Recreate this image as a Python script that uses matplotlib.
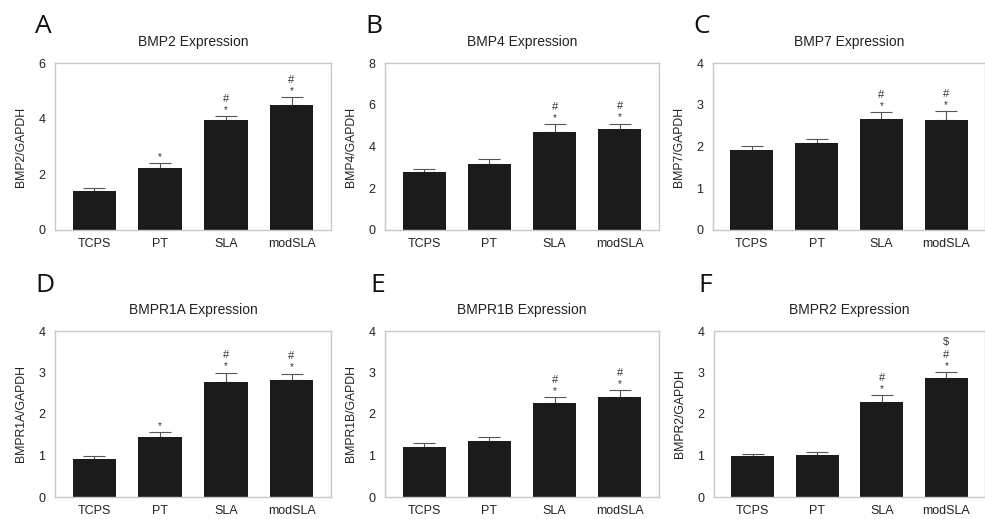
import matplotlib
matplotlib.use("Agg")
import matplotlib.pyplot as plt

plt.rcParams['font.family'] = ['Liberation Sans', 'DejaVu Sans']

groups = ["TCPS", "PT", "SLA", "modSLA"]

letters = ["A", "B", "C", "D", "E", "F"]
titles = ["BMP2 Expression", "BMP4 Expression", "BMP7 Expression",
          "BMPR1A Expression", "BMPR1B Expression", "BMPR2 Expression"]
ylabels = ["BMP2/GAPDH", "BMP4/GAPDH", "BMP7/GAPDH",
           "BMPR1A/GAPDH", "BMPR1B/GAPDH", "BMPR2/GAPDH"]
ymax = [6, 8, 4, 4, 4, 4]
ystep = [2, 2, 1, 1, 1, 1]

means = [
    [1.40, 2.21, 3.94, 4.50],
    [2.78, 3.15, 4.70, 4.85],
    [1.91, 2.08, 2.66, 2.64],
    [0.91, 1.44, 2.77, 2.81],
    [1.21, 1.34, 2.26, 2.40],
    [0.98, 1.02, 2.28, 2.86],
]
errs = [
    [0.10, 0.19, 0.14, 0.28],
    [0.15, 0.26, 0.36, 0.24],
    [0.11, 0.10, 0.16, 0.20],
    [0.08, 0.12, 0.23, 0.16],
    [0.09, 0.11, 0.14, 0.18],
    [0.05, 0.07, 0.17, 0.15],
]
# significance marks per bar
marks = [
    ["", "*", "*#", "*#"],
    ["", "", "*#", "*#"],
    ["", "", "*#", "*#"],
    ["", "*", "*#", "*#"],
    ["", "", "*#", "*#"],
    ["", "", "*#", "*#$"],
]

# axes boxes in pixels (left, right, top, bottom)
W, H = 985, 519
boxes = [
    (55, 331, 63, 230), (385, 659, 63, 230), (713, 985, 63, 230),
    (55, 331, 331, 497), (385, 659, 331, 497), (714, 985, 331, 497),
]
letter_pos = [(35, 33), (365, 33), (693, 33), (35, 292), (370, 292), (698, 292)]

fig = plt.figure(figsize=(W / 100, H / 100), dpi=100)

mark_off = {"*": 4.5, "#": 12.5, "$": 21.5}

for i in range(6):
    l, r, t, b = boxes[i]
    ax = fig.add_axes([l / W, 1 - b / H, (r - l) / W, (b - t) / H])
    x = range(len(groups))
    ax.bar(x, means[i], width=0.66, color="#1b1b1b", zorder=2)
    ax.errorbar(x, means[i], yerr=[[0] * 4, errs[i]], fmt="none",
                ecolor="#555555", elinewidth=0.8, capsize=8, capthick=0.8, zorder=1)
    for j in range(4):
        top = means[i][j] + errs[i][j]
        for m in marks[i][j]:
            ax.annotate(m, (j, top), xytext=(0, mark_off[m]), textcoords="offset points",
                        ha="center", va="center", fontsize=8 if m != "*" else 7,
                        color="#333333")
    ax.set_xlim(-0.6, 3.6)
    ax.set_ylim(0, ymax[i])
    yt = list(range(0, ymax[i] + 1, ystep[i]))
    ax.set_yticks(yt)
    ax.set_xticks(list(x))
    ax.set_xticklabels(groups, fontsize=9)
    ax.tick_params(axis="both", length=0, labelsize=9, colors="#222222")
    ax.tick_params(axis="y", pad=7)
    ax.tick_params(axis="x", pad=6)
    for s in ax.spines.values():
        s.set_color("#c8c8c8")
        s.set_linewidth(1.0)
    ax.set_ylabel(ylabels[i], fontsize=8.8, labelpad=8, color="#222222")
    ax.set_title(titles[i], fontsize=10, pad=12, color="#222222")
    lx, ly = letter_pos[i]
    fig.text(lx / W, 1 - ly / H, letters[i], fontsize=19, family="Open Sans",
             ha="left", va="baseline", color="#111111")

fig.savefig("out.png", dpi=100)
